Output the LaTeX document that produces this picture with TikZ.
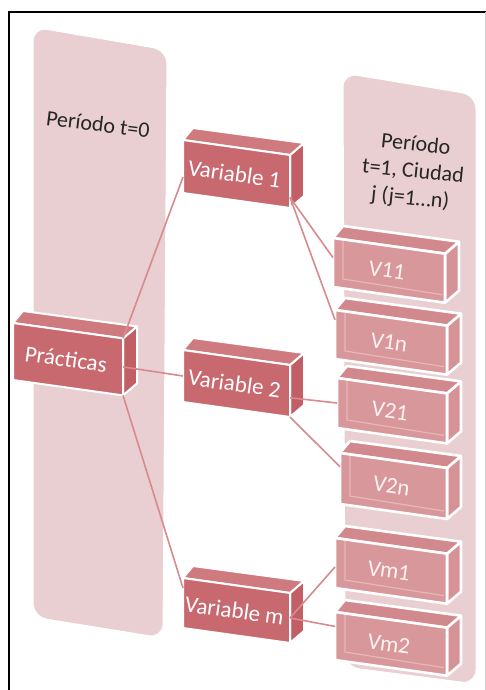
\documentclass[tikz,border=0pt]{standalone}
\usepackage{fontspec}
\setmainfont{Carlito}
\usetikzlibrary{calc}

\definecolor{panelrosa}{HTML}{E9CFD1}
\definecolor{oscfrente}{HTML}{C8696F}
\definecolor{osctapa}{HTML}{CF7A7F}
\definecolor{osclado}{HTML}{C25F66}
\definecolor{clafrente}{HTML}{D8979B}
\definecolor{clatapa}{HTML}{D1898D}
\definecolor{clalado}{HTML}{D69397}
\definecolor{clainterior}{HTML}{E7B7BA}
\definecolor{rojolinea}{HTML}{D88A8E}

\tikzset{
  panel/.style={fill=panelrosa, draw=white, line width=1pt, rounded corners=14pt},
  paneltext/.style={text=black!85, font=\fontsize{22}{27}\selectfont, align=center},
  oscfront/.style={fill=oscfrente, draw=white, line width=2pt, line join=round},
  osctop/.style={fill=osctapa, draw=white, line width=2pt, line join=round},
  oscside/.style={fill=osclado, draw=white, line width=2pt, line join=round},
  oscinner/.style={draw=none},
  osctext/.style={text=white, font=\fontsize{23}{27}\selectfont, rotate=-8, inner sep=1pt},
  clafront/.style={fill=clafrente, draw=white, line width=2.6pt, line join=round},
  clatop/.style={fill=clatapa, draw=white, line width=2.6pt, line join=round},
  claside/.style={fill=clalado, draw=white, line width=2.6pt, line join=round},
  clainner/.style={draw=clainterior, line width=1.2pt},
  clatext/.style={text=white!95!red, font=\fontsize{23}{27}\selectfont, rotate=-8, inner sep=1pt},
  enlace/.style={draw=rojolinea, line width=1.6pt},
}

% box: name, x, y, width, height, text, style prefix
\newcommand{\caja}[7]{%
  \pgfmathsetmacro{\cajady}{0.14*#4}
  \coordinate (#1-nw) at (#2,#3);
  \coordinate (#1-ne) at ($(#1-nw)+(#4,\cajady)$);
  \coordinate (#1-sw) at ($(#1-nw)+(0,#5)$);
  \coordinate (#1-se) at ($(#1-ne)+(0,#5)$);
  \filldraw[#7side] (#1-ne) -- ++(14,-12) -- ++(0,#5) -- (#1-se) -- cycle;
  \filldraw[#7top] (#1-nw) -- (#1-ne) -- ++(14,-12) -- ($(#1-nw)+(10,-12)$) -- cycle;
  \filldraw[#7front] (#1-nw) -- (#1-ne) -- (#1-se) -- (#1-sw) -- cycle;
  \draw[#7inner] ($(#1-nw)+(10,3)$) -- ($(#1-sw)+(10,-8)$) -- ($(#1-se)+(-3,-8)$);
  \node[#7text] (#1) at ($(#1-nw)!0.5!(#1-se)+(-2,0)$) {#6};
}

\begin{document}
\begin{tikzpicture}[x=1pt,y=-1pt]
  \useasboundingbox (0,0) rectangle (486,690);

  % Frame
  \draw[black, line width=2.4pt] (9,690) -- (9,12) -- (486,12);
  \draw[black!20, line width=1pt] (485,12) -- (485,690);

  % Panels
  \filldraw[panel] (33,27) -- (167,50) -- (163,638) -- (33,617) -- cycle;
  \filldraw[panel] (343,73) -- (476,95) -- (476,684) -- (345,667) -- cycle;
  \node[paneltext, rotate=-7] (t0) at (98,124) {Período t=0};
  \node[paneltext, rotate=-6] (t1) at (413,172) {Período\\t=1, Ciudad\\j (j=1…n)};

  % Boxes (right column)
  \caja{v11}{333}{238}{112}{49}{V11}{cla}
  \caja{v1n}{335}{310}{112}{49}{V1n}{cla}
  \caja{v21}{337}{378}{110}{50}{V21}{cla}
  \caja{v2n}{340}{453}{107}{51}{V2n}{cla}
  \caja{vm1}{335}{538}{112}{50}{Vm1}{cla}
  \caja{vm2}{335}{612}{112}{48}{Vm2}{cla}

  % Boxes (left and middle)
  \caja{pr}{13}{323}{110}{57}{Prácticas}{osc}
  \caja{v1}{183}{140}{107}{53}{Variable 1}{osc}
  \caja{v2}{183}{350}{107}{52}{Variable 2}{osc}
  \caja{vm}{183}{578}{107}{50}{Variable m}{osc}

  % Links
  \draw[enlace] (pr-ne) -- ($(v1-nw)!0.7!(v1-sw)$);
  \draw[enlace] ($(pr-ne)!0.5!(pr-se)$) -- ($(v2-nw)!0.5!(v2-sw)$);
  \draw[enlace] (pr-se) -- ($(vm-nw)!0.2!(vm-sw)$);
  \draw[enlace] ($(v1-ne)!0.8!(v1-se)$) -- ($(v11-nw)!0.4!(v11-sw)$);
  \draw[enlace] ($(v1-ne)!0.8!(v1-se)$) -- ($(v1n-nw)!0.2!(v1n-sw)$);
  \draw[enlace] ($(v2-ne)!0.63!(v2-se)$) -- ($(v21-nw)!0.5!(v21-sw)$);
  \draw[enlace] (v2-se) -- ($(v2n-nw)!0.27!(v2n-sw)$);
  \draw[enlace] ($(vm-ne)!0.5!(vm-se)$) -- ($(vm1-nw)!0.58!(vm1-sw)$);
  \draw[enlace] ($(vm-ne)!0.5!(vm-se)$) -- ($(vm2-nw)!0.3!(vm2-sw)$);
\end{tikzpicture}
\end{document}
